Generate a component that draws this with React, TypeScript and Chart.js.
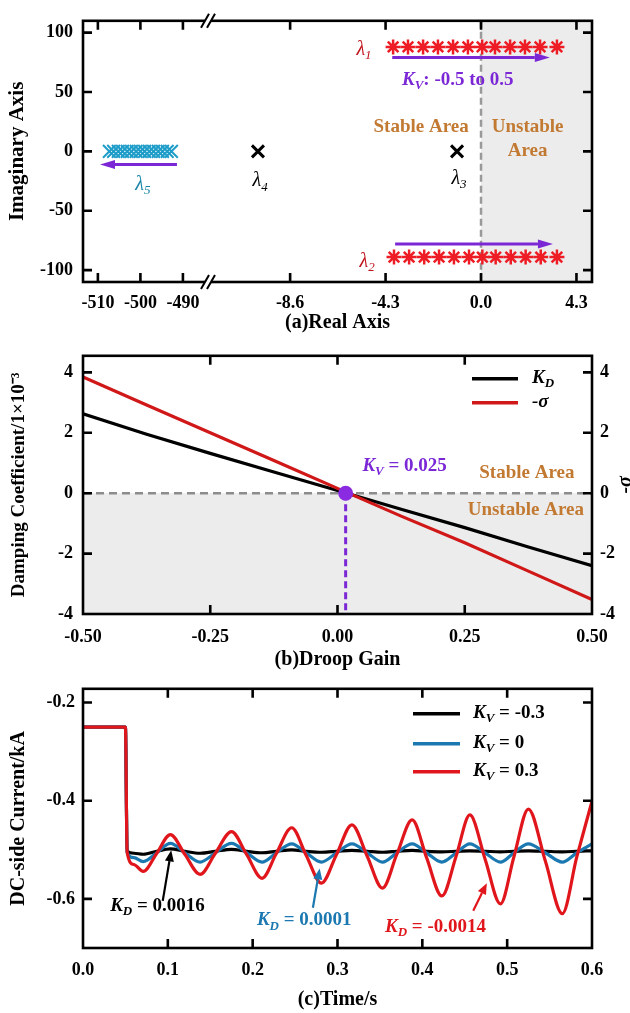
import React, { useEffect, useRef } from 'react';
import { Chart, registerables } from 'chart.js';

Chart.register(...registerables);

const FAMILY = '"Liberation Serif", "Times New Roman", serif';

// ---------------- Panel (a): root locus ----------------
const reTicksFar = [-510, -500, -490];
const reTicksNear = [-8.6, -4.3, 0, 4.3];
const imTicks = [-100, -50, 0, 50, 100];
const lam1Re = [-3.96, -3.29, -2.61, -1.94, -1.26, -0.59, 0.05, 0.63, 1.31, 1.98, 2.66, 3.42];
const lam1Im = [88, 88, 88, 88, 88, 88, 88, 88, 88, 88, 88, 88];
const lam2Re = [-3.92, -3.24, -2.56, -1.89, -1.22, -0.54, 0.06, 0.66, 1.34, 2.01, 2.69, 3.42];
const lam2Im = [-89, -89, -89, -89, -89, -89, -89, -89, -89, -89, -89, -89];
const lam3Re = [-1.08];
const lam3Im = [0];
const lam4Re = [-10.05];
const lam4Im = [0];
const lam5Re = [-507.3, -506.3, -505.2, -504.2, -503.1, -502.1, -501.0, -500.0, -499.0, -497.9, -496.9, -495.8, -494.8, -493.7, -492.7];
const lam5Im = [0, 0, 0, 0, 0, 0, 0, 0, 0, 0, 0, 0, 0, 0, 0];

// ---------------- Panel (b): damping vs droop gain ----------------
const droopTicks = [-0.5, -0.25, 0, 0.25, 0.5];
const dampTicks = [-4, -2, 0, 2, 4];
const droopGain = [-0.5, -0.375, -0.25, -0.125, 0, 0.125, 0.25, 0.375, 0.5];
const kdValues = [2.63, 1.95, 1.32, 0.7, 0.09, -0.53, -1.14, -1.78, -2.4];
const negSigma = [3.85, 2.92, 2.0, 1.08, 0.16, -0.76, -1.64, -2.58, -3.52];
const kvCritical = [0.016];
const kvCriticalDamping = [0];

// ---------------- Panel (c): DC-side current ----------------
const timeTicks = [0, 0.1, 0.2, 0.3, 0.4, 0.5, 0.6];
const currentTicks = [-0.6, -0.4, -0.2];
const time = [0, 0.05, 0.052, 0.06, 0.071, 0.087, 0.103, 0.12, 0.138, 0.156, 0.175, 0.193, 0.211, 0.228, 0.246, 0.263, 0.281, 0.299, 0.317, 0.335, 0.353, 0.37, 0.388, 0.405, 0.423, 0.44, 0.456, 0.474, 0.492, 0.508, 0.525, 0.545, 0.565, 0.582, 0.6];
const iKvNeg = [-0.25, -0.25, -0.503, -0.507, -0.509, -0.503, -0.498, -0.503, -0.507, -0.503, -0.499, -0.503, -0.506, -0.503, -0.5, -0.503, -0.505, -0.503, -0.501, -0.503, -0.505, -0.503, -0.501, -0.503, -0.504, -0.503, -0.502, -0.503, -0.504, -0.503, -0.502, -0.503, -0.504, -0.503, -0.502];
const iKvZero = [-0.25, -0.25, -0.505, -0.516, -0.524, -0.506, -0.487, -0.506, -0.525, -0.506, -0.487, -0.506, -0.525, -0.506, -0.488, -0.506, -0.525, -0.506, -0.488, -0.506, -0.525, -0.506, -0.488, -0.506, -0.525, -0.506, -0.488, -0.506, -0.525, -0.506, -0.488, -0.506, -0.525, -0.506, -0.488];
const iKvPos = [-0.25, -0.25, -0.505, -0.53, -0.544, -0.507, -0.469, -0.509, -0.55, -0.507, -0.463, -0.51, -0.558, -0.507, -0.455, -0.511, -0.568, -0.509, -0.449, -0.513, -0.578, -0.509, -0.439, -0.516, -0.594, -0.512, -0.429, -0.519, -0.61, -0.514, -0.417, -0.523, -0.63, -0.515, -0.401];

// ---------------- styles ----------------
const PURPLE = '#7b27d6';
const BROWN = '#c27a33';
const SHADE = '#ececec';
const STAR_RED = '#ee1c24';
const LAMBDA_RED = '#c0141c';
const TEAL = '#1f9dc9';
const TEAL_TEXT = '#1a86a8';
const B_RED = '#d01818';
const C_RED = '#e0161c';
const C_BLUE = '#1b78b0';

const T = (size: number, italic = false, bold = true) =>
  `${italic ? 'italic ' : ''}${bold ? 'bold ' : ''}${size}px ${FAMILY}`;

type Part = { t: string; i?: boolean; sub?: boolean };

function drawRich(ctx: any, parts: Part[], x: number, y: number, size: number, color: string, align = 'left', bold = true) {
  ctx.save();
  ctx.fillStyle = color;
  ctx.textBaseline = 'middle';
  ctx.textAlign = 'left';
  const fontOf = (p: Part) => T(p.sub ? Math.round(size * 0.66) : size, !!p.i, bold);
  let w = 0;
  for (const p of parts) { ctx.font = fontOf(p); w += ctx.measureText(p.t).width; }
  let cx = align === 'center' ? x - w / 2 : x;
  for (const p of parts) {
    ctx.font = fontOf(p);
    ctx.fillText(p.t, cx, y + (p.sub ? size * 0.3 : 0));
    cx += ctx.measureText(p.t).width;
  }
  ctx.restore();
}

function arrow(ctx: any, x1: number, y1: number, x2: number, y2: number, color: string, lw: number, headLen: number, headW: number) {
  const a = Math.atan2(y2 - y1, x2 - x1);
  const bx = x2 - headLen * Math.cos(a);
  const by = y2 - headLen * Math.sin(a);
  ctx.save();
  ctx.strokeStyle = color; ctx.fillStyle = color; ctx.lineWidth = lw; ctx.setLineDash([]);
  ctx.beginPath(); ctx.moveTo(x1, y1); ctx.lineTo(bx, by); ctx.stroke();
  ctx.beginPath();
  ctx.moveTo(x2, y2);
  ctx.lineTo(bx + headW * Math.sin(a), by - headW * Math.cos(a));
  ctx.lineTo(bx - headW * Math.sin(a), by + headW * Math.cos(a));
  ctx.closePath(); ctx.fill();
  ctx.restore();
}

function frameAndTicks(chart: any, xIds: string[], yId: string, len = 8) {
  const { ctx, chartArea: { left, right, top, bottom } } = chart;
  ctx.save();
  ctx.strokeStyle = '#000'; ctx.lineWidth = 2.6; ctx.setLineDash([]);
  ctx.beginPath();
  xIds.forEach((id) => {
    const s = chart.scales[id];
    s.ticks.forEach((t: any) => {
      const p = s.getPixelForValue(t.value);
      if (p < left + 3 || p > right - 3) return;
      ctx.moveTo(p, bottom); ctx.lineTo(p, bottom - len);
      ctx.moveTo(p, top); ctx.lineTo(p, top + len);
    });
  });
  const ys = chart.scales[yId];
  ys.ticks.forEach((t: any) => {
    const p = ys.getPixelForValue(t.value);
    if (p < top + 3 || p > bottom - 3) return;
    ctx.moveTo(left, p); ctx.lineTo(left + len, p);
    ctx.moveTo(right, p); ctx.lineTo(right - len, p);
  });
  ctx.stroke();
  ctx.strokeRect(left, top, right - left, bottom - top);
  ctx.restore();
}

const tickFont = { family: FAMILY, size: 18, weight: 'bold' };
const setTicks = (vals: number[]) => (s: any) => { s.ticks = vals.map((v) => ({ value: v })); };

// ---------------- configs ----------------
function configA(): any {
  const pts = (re: number[], im: number[]) => re.map((x, i) => ({ x, y: im[i] }));
  const plugin = {
    id: 'panelA',
    beforeDatasetsDraw(chart: any) {
      const { ctx, chartArea: { right, top, bottom }, scales: { xR } } = chart;
      const x0 = xR.getPixelForValue(0);
      ctx.save();
      ctx.fillStyle = SHADE; ctx.fillRect(x0, top, right - x0, bottom - top);
      ctx.strokeStyle = '#999'; ctx.lineWidth = 2.5; ctx.setLineDash([7, 4]);
      ctx.beginPath(); ctx.moveTo(x0, top); ctx.lineTo(x0, bottom); ctx.stroke();
      ctx.restore();
    },
    afterDatasetsDraw(chart: any) {
      const { ctx, chartArea: { left, right, top, bottom }, scales: { xL, xR, y } } = chart;
      frameAndTicks(chart, ['xL', 'xR'], 'y', 9);
      // axis break marks
      const bx = xL.right;
      ctx.save();
      [top, bottom].forEach((yy) => {
        ctx.fillStyle = '#fff'; ctx.fillRect(bx - 3, yy - 3, 6, 6);
        ctx.strokeStyle = '#000'; ctx.lineWidth = 2; ctx.beginPath();
        [-3, 3].forEach((d) => { ctx.moveTo(bx + d - 4, yy + 7); ctx.lineTo(bx + d + 4, yy - 7); });
        ctx.stroke();
      });
      ctx.restore();
      const R = (v: number) => xR.getPixelForValue(v);
      const Lx = (v: number) => xL.getPixelForValue(v);
      const Y = (v: number) => y.getPixelForValue(v);
      arrow(ctx, R(-4.0), Y(79), R(3.1), Y(79), PURPLE, 3, 15, 4.5);
      arrow(ctx, R(-3.87), Y(-78), R(3.24), Y(-78), PURPLE, 3, 15, 4.5);
      arrow(ctx, Lx(-491.4), Y(-11), Lx(-509.5), Y(-11), PURPLE, 3, 15, 4.5);
      drawRich(ctx, [{ t: 'λ', i: true }, { t: '1', i: true, sub: true }], R(-5.27), Y(86), 20, LAMBDA_RED, 'center', false);
      drawRich(ctx, [{ t: 'λ', i: true }, { t: '2', i: true, sub: true }], R(-5.13), Y(-93), 20, LAMBDA_RED, 'center', false);
      drawRich(ctx, [{ t: 'λ', i: true }, { t: '3', i: true, sub: true }], R(-0.99), Y(-23), 20, '#000', 'center', false);
      drawRich(ctx, [{ t: 'λ', i: true }, { t: '4', i: true, sub: true }], R(-9.95), Y(-25), 20, '#000', 'center', false);
      drawRich(ctx, [{ t: 'λ', i: true }, { t: '5', i: true, sub: true }], Lx(-499.4), Y(-28), 20, TEAL_TEXT, 'center', false);
      drawRich(ctx, [{ t: 'K', i: true }, { t: 'V', i: true, sub: true }, { t: ': -0.5 to 0.5' }], R(-3.56), Y(60), 19, PURPLE);
      drawRich(ctx, [{ t: 'Stable Area' }], R(-2.7), Y(20.7), 19, BROWN, 'center');
      drawRich(ctx, [{ t: 'Unstable' }], R(2.1), Y(20.7), 19, BROWN, 'center');
      drawRich(ctx, [{ t: 'Area' }], R(2.1), Y(0), 19, BROWN, 'center');
      drawRich(ctx, [{ t: '(a)Real Axis' }], (left + right) / 2, 323, 20, '#000', 'center');
    },
  };
  return {
    type: 'scatter',
    data: {
      datasets: [
        { label: 'λ1', xAxisID: 'xR', yAxisID: 'y', data: pts(lam1Re, lam1Im), pointStyle: 'star', pointRadius: 7.5, borderColor: STAR_RED, backgroundColor: STAR_RED, borderWidth: 2.5 },
        { label: 'λ2', xAxisID: 'xR', yAxisID: 'y', data: pts(lam2Re, lam2Im), pointStyle: 'star', pointRadius: 7.5, borderColor: STAR_RED, backgroundColor: STAR_RED, borderWidth: 2.5 },
        { label: 'λ3', xAxisID: 'xR', yAxisID: 'y', data: pts(lam3Re, lam3Im), pointStyle: 'crossRot', pointRadius: 8.5, borderColor: '#000', borderWidth: 3 },
        { label: 'λ4', xAxisID: 'xR', yAxisID: 'y', data: pts(lam4Re, lam4Im), pointStyle: 'crossRot', pointRadius: 8.5, borderColor: '#000', borderWidth: 3 },
        { label: 'λ5', xAxisID: 'xL', yAxisID: 'y', data: pts(lam5Re, lam5Im), pointStyle: 'crossRot', pointRadius: 9, borderColor: TEAL, borderWidth: 2 },
      ],
    },
    options: {
      responsive: false,
      animation: false,
      events: [],
      layout: { padding: { top: 16, right: 38, left: 0, bottom: 0 } },
      plugins: { legend: { display: false }, tooltip: { enabled: false } },
      scales: {
        xL: {
          type: 'linear', position: 'bottom', stack: 're', stackWeight: 125, min: -513.5, max: -484.1,
          grid: { display: false, drawTicks: false }, border: { display: false },
          afterBuildTicks: setTicks(reTicksFar),
          ticks: { font: tickFont, color: '#000', padding: 11, autoSkip: false, maxRotation: 0, callback: (v: number) => String(v) },
          afterFit: (s: any) => { s.height = 53; },
        },
        xR: {
          type: 'linear', position: 'bottom', stack: 're', stackWeight: 384, min: -12.3, max: 5.0,
          grid: { display: false, drawTicks: false }, border: { display: false },
          afterBuildTicks: setTicks(reTicksNear),
          ticks: { font: tickFont, color: '#000', padding: 11, autoSkip: false, maxRotation: 0, callback: (v: number) => v.toFixed(1) },
          afterFit: (s: any) => { s.height = 53; },
        },
        y: {
          type: 'linear', position: 'left', min: -110, max: 110,
          grid: { display: false, drawTicks: false }, border: { display: false },
          afterBuildTicks: setTicks(imTicks),
          ticks: { font: tickFont, color: '#000', padding: 10, callback: (v: number) => String(v) },
          title: { display: true, text: 'Imaginary Axis', color: '#000', font: { family: FAMILY, size: 21, weight: 'bold' }, padding: { top: 5, bottom: 0 } },
          afterFit: (s: any) => { s.width = 83; },
        },
      },
    },
    plugins: [plugin],
  };
}

function configB(): any {
  const plugin = {
    id: 'panelB',
    beforeDatasetsDraw(chart: any) {
      const { ctx, chartArea: { left, right, bottom }, scales: { x, y } } = chart;
      const y0 = y.getPixelForValue(0);
      ctx.save();
      ctx.fillStyle = SHADE; ctx.fillRect(left, y0, right - left, bottom - y0);
      ctx.strokeStyle = '#8c8c8c'; ctx.lineWidth = 2.5; ctx.setLineDash([8, 5]);
      ctx.beginPath(); ctx.moveTo(left, y0); ctx.lineTo(right, y0); ctx.stroke();
      const xk = x.getPixelForValue(kvCritical[0]);
      ctx.strokeStyle = PURPLE; ctx.lineWidth = 3; ctx.setLineDash([7, 4]);
      ctx.beginPath(); ctx.moveTo(xk, y0); ctx.lineTo(xk, bottom); ctx.stroke();
      ctx.restore();
    },
    afterDatasetsDraw(chart: any) {
      const { ctx, chartArea: { right, top, bottom }, scales: { x, y } } = chart;
      frameAndTicks(chart, ['x'], 'y', 9);
      const X = (v: number) => x.getPixelForValue(v);
      const Y = (v: number) => y.getPixelForValue(v);
      drawRich(ctx, [{ t: 'K', i: true }, { t: 'V', i: true, sub: true }, { t: ' = 0.025' }], X(0.049), Y(0.9), 19, PURPLE);
      drawRich(ctx, [{ t: 'Stable Area' }], X(0.372), Y(0.65), 19, BROWN, 'center');
      drawRich(ctx, [{ t: 'Unstable Area' }], X(0.37), Y(-0.55), 19, BROWN, 'center');
      // legend
      ctx.save();
      ctx.lineWidth = 3.5; ctx.setLineDash([]);
      ctx.strokeStyle = '#000'; ctx.beginPath(); ctx.moveTo(right - 120, top + 23); ctx.lineTo(right - 74, top + 23); ctx.stroke();
      ctx.strokeStyle = B_RED; ctx.beginPath(); ctx.moveTo(right - 120, top + 47); ctx.lineTo(right - 74, top + 47); ctx.stroke();
      ctx.restore();
      drawRich(ctx, [{ t: 'K', i: true }, { t: 'D', i: true, sub: true }], right - 60, top + 22, 19, '#000');
      drawRich(ctx, [{ t: '-σ', i: true }], right - 60, top + 46, 19, '#000');
      // right axis title
      ctx.save();
      ctx.translate(626, (top + bottom) / 2);
      ctx.rotate(-Math.PI / 2);
      ctx.fillStyle = '#000'; ctx.font = T(20, true); ctx.textAlign = 'center'; ctx.textBaseline = 'middle';
      ctx.fillText('-σ', 0, 0);
      ctx.restore();
    },
  };
  const line = (vals: number[]) => droopGain.map((x, i) => ({ x, y: vals[i] }));
  return {
    type: 'line',
    data: {
      datasets: [
        { type: 'scatter', label: 'critical', data: kvCritical.map((x, i) => ({ x, y: kvCriticalDamping[i] })), pointRadius: 7.5, backgroundColor: '#8a2be2', borderColor: '#8a2be2', borderWidth: 0, order: 0 },
        { label: 'KD', data: line(kdValues), borderColor: '#000', borderWidth: 3.2, pointRadius: 0, fill: false, order: 2 },
        { label: '-sigma', data: line(negSigma), borderColor: B_RED, borderWidth: 3.2, pointRadius: 0, fill: false, order: 1 },
      ],
    },
    options: {
      responsive: false,
      animation: false,
      events: [],
      layout: { padding: { top: 15, right: 0, left: 0, bottom: 0 } },
      plugins: { legend: { display: false }, tooltip: { enabled: false } },
      scales: {
        x: {
          type: 'linear', position: 'bottom', min: -0.5, max: 0.5,
          grid: { display: false, drawTicks: false }, border: { display: false },
          afterBuildTicks: setTicks(droopTicks),
          ticks: { font: tickFont, color: '#000', padding: 13, autoSkip: false, maxRotation: 0, callback: (v: number) => v.toFixed(2) },
          title: { display: true, text: '(b)Droop Gain', color: '#000', font: { family: FAMILY, size: 20, weight: 'bold', lineHeight: 1 }, padding: { top: 0, bottom: 0 } },
          afterFit: (s: any) => { s.height = 56; },
        },
        y: {
          type: 'linear', position: 'left', min: -4, max: 4.55,
          grid: { display: false, drawTicks: false }, border: { display: false },
          afterBuildTicks: setTicks(dampTicks),
          ticks: { font: tickFont, color: '#000', padding: 10, callback: (v: number) => String(v) },
          title: { display: true, text: 'Damping Coefficient/1×10⁻³', color: '#000', font: { family: FAMILY, size: 19, weight: 'bold' }, padding: { top: 8, bottom: 0 } },
          afterFit: (s: any) => { s.width = 83; },
        },
        y2: {
          type: 'linear', position: 'right', min: -4, max: 4.55,
          grid: { display: false, drawTicks: false }, border: { display: false },
          afterBuildTicks: setTicks(dampTicks),
          ticks: { font: tickFont, color: '#000', padding: 8, callback: (v: number) => String(v) },
          afterFit: (s: any) => { s.width = 38; },
        },
      },
    },
    plugins: [plugin],
  };
}

function configC(): any {
  const plugin = {
    id: 'panelC',
    afterDatasetsDraw(chart: any) {
      const { ctx, chartArea: { right, top }, scales: { x, y } } = chart;
      frameAndTicks(chart, ['x'], 'y', 9);
      const X = (v: number) => x.getPixelForValue(v);
      const Y = (v: number) => y.getPixelForValue(v);
      arrow(ctx, X(0.094), Y(-0.604), X(0.104), Y(-0.501), '#000', 2.2, 11, 4.5);
      arrow(ctx, X(0.271), Y(-0.618), X(0.279), Y(-0.538), C_BLUE, 2.2, 11, 4.5);
      arrow(ctx, X(0.46), Y(-0.624), X(0.476), Y(-0.568), C_RED, 2.2, 11, 4.5);
      drawRich(ctx, [{ t: 'K', i: true }, { t: 'D', i: true, sub: true }, { t: ' = 0.0016' }], X(0.032), Y(-0.614), 19, '#000');
      drawRich(ctx, [{ t: 'K', i: true }, { t: 'D', i: true, sub: true }, { t: ' = 0.0001' }], X(0.205), Y(-0.644), 19, C_BLUE);
      drawRich(ctx, [{ t: 'K', i: true }, { t: 'D', i: true, sub: true }, { t: ' = -0.0014' }], X(0.356), Y(-0.658), 19, C_RED);
      // legend
      const rows: [string, string, number][] = [['#000', ' = -0.3', 25], [C_BLUE, ' = 0', 55], [C_RED, ' = 0.3', 83]];
      rows.forEach(([c, txt, dy]) => {
        ctx.save();
        ctx.strokeStyle = c; ctx.lineWidth = 3.5; ctx.setLineDash([]);
        ctx.beginPath(); ctx.moveTo(right - 179, top + dy); ctx.lineTo(right - 132, top + dy); ctx.stroke();
        ctx.restore();
        drawRich(ctx, [{ t: 'K', i: true }, { t: 'V', i: true, sub: true }, { t: txt }], right - 119, top + dy - 1, 19, '#000');
      });
    },
  };
  const line = (vals: number[]) => time.map((x, i) => ({ x, y: vals[i] }));
  const common = { pointRadius: 0, borderWidth: 3.2, fill: false, cubicInterpolationMode: 'monotone' };
  return {
    type: 'line',
    data: {
      datasets: [
        { label: 'KV=-0.3', data: line(iKvNeg), borderColor: '#000', order: 2, ...common },
        { label: 'KV=0', data: line(iKvZero), borderColor: C_BLUE, order: 1, ...common },
        { label: 'KV=0.3', data: line(iKvPos), borderColor: C_RED, order: 0, ...common },
      ],
    },
    options: {
      responsive: false,
      animation: false,
      events: [],
      layout: { padding: { top: 13, right: 38, left: 0, bottom: 0 } },
      plugins: { legend: { display: false }, tooltip: { enabled: false } },
      scales: {
        x: {
          type: 'linear', position: 'bottom', min: 0, max: 0.6,
          grid: { display: false, drawTicks: false }, border: { display: false },
          afterBuildTicks: setTicks(timeTicks),
          ticks: { font: tickFont, color: '#000', padding: 12, autoSkip: false, maxRotation: 0, callback: (v: number) => v.toFixed(1) },
          title: { display: true, text: '(c)Time/s', color: '#000', font: { family: FAMILY, size: 20, weight: 'bold', lineHeight: 1 }, padding: { top: 0, bottom: 3 } },
          afterFit: (s: any) => { s.height = 65; },
        },
        y: {
          type: 'linear', position: 'left', min: -0.7, max: -0.172,
          grid: { display: false, drawTicks: false }, border: { display: false },
          afterBuildTicks: setTicks(currentTicks),
          ticks: { font: tickFont, color: '#000', padding: 8, callback: (v: number) => v.toFixed(1) },
          title: { display: true, text: 'DC-side Current/kA', color: '#000', font: { family: FAMILY, size: 20, weight: 'bold' }, padding: { top: 7, bottom: 0 } },
          afterFit: (s: any) => { s.width = 83; },
        },
      },
    },
    plugins: [plugin],
  };
}

function Panel({ make, top, height }: { make: () => any; top: number; height: number }) {
  const ref = useRef<HTMLCanvasElement>(null);
  useEffect(() => {
    const chart = new Chart(ref.current as HTMLCanvasElement, make());
    return () => chart.destroy();
  }, []);
  return (
    <canvas
      ref={ref}
      width={630}
      height={height}
      style={{ position: 'absolute', left: 0, top, width: 630, height }}
    />
  );
}

export default function App() {
  return (
    <div style={{ position: 'absolute', left: 0, top: 0, width: 630, height: 1013, background: '#fff', overflow: 'hidden' }}>
      <Panel make={configA} top={0} height={335} />
      <Panel make={configB} top={335} height={335} />
      <Panel make={configC} top={670} height={343} />
    </div>
  );
}
